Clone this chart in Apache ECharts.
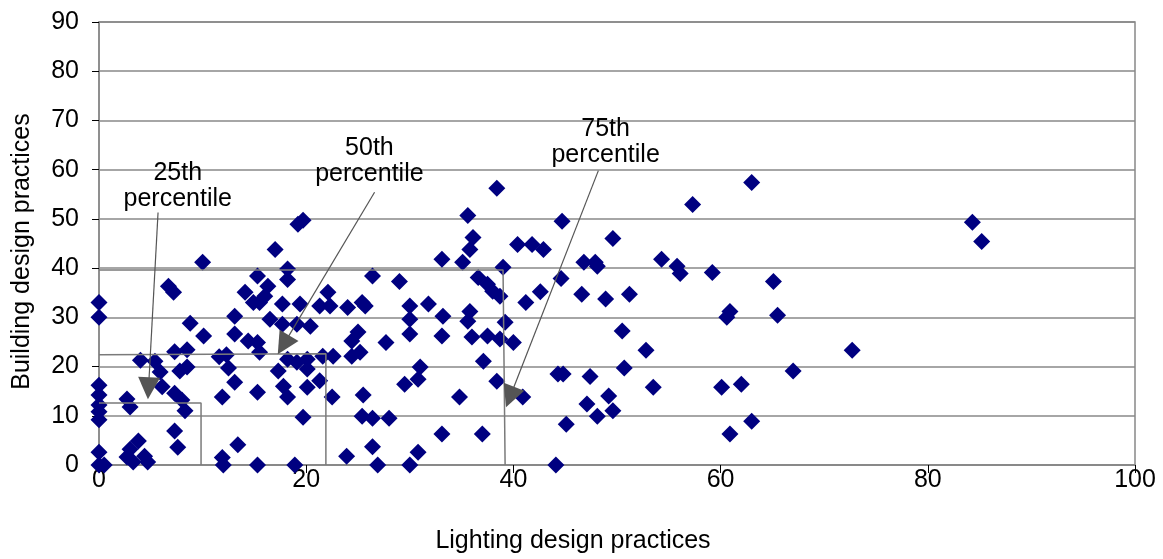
<!DOCTYPE html>
<html>
<head>
<meta charset="utf-8">
<script src="https://cdn.jsdelivr.net/npm/echarts@6/dist/echarts.min.js"></script>
<style>html,body{margin:0;padding:0;background:#fff;}#c{width:1163px;height:559px;}</style>
</head>
<body>
<div id="c"></div>
<script>
// Lighting design practices (x) vs Building design practices (y)
const points = [
  [0,33],[0,30],[0,16.2],[0,14.2],[0,12.2],[0,10.8],[0,9.2],[0,2.6],[0,0],[0.5,0],
  [2.7,13.4],[3,11.8],[3.8,4.9],[3,3.2],[4.4,1.8],[2.7,1.6],[3.3,0.6],[4.7,0.6],[4,21.3],[5.4,21.1],
  [5.9,18.9],[6.1,15.9],[7.3,23],[8.5,23.4],[7.8,19.1],[8.5,19.9],[7.3,14.6],[8,13.2],[8.3,11],[7.3,6.9],
  [7.6,3.6],[6.7,36.3],[7.2,35.1],[10,41.2],[8.8,28.8],[10.1,26.2],
  [19.2,48.9],[19.7,49.7],[17,43.8],[18.2,39.8],[18.2,37.7],[15.3,38.4],[14.1,35.1],[14.9,33],[16,34.3],[16.3,36.3],
  [15.5,33],[17.7,32.7],[19.4,32.7],[22.1,35.1],[21.3,32.3],[22.3,32.3],[13.1,30.2],[13.1,26.6],[16.5,29.6],[17.7,28.6],
  [19.1,28.6],[20.4,28.2],[14.4,25.2],[15.3,24.9],[15.5,22.9],[11.6,22],[12.3,22.4],[12.5,19.7],[13.1,16.8],[11.9,13.8],
  [15.3,14.8],[17.3,19.1],[18.2,21.5],[19.1,20.9],[20.1,21.5],[21.6,22.1],[22.6,22.1],[20.1,19.5],[21.3,17.1],[20.1,15.8],
  [17.8,16],[18.2,13.8],[22.5,13.8],[19.7,9.7],[13.4,4.1],[11.9,1.5],[12,0],[15.3,0],[18.9,0],
  [33.1,41.8],[26.4,38.4],[29,37.3],[24,32],[25.4,33],[25.7,32.3],[30,32.3],[31.8,32.7],[33.2,30.2],[30,29.6],
  [25,27],[24.4,25.2],[24.4,22.1],[25.2,22.9],[27.7,24.9],[30,26.6],[33.1,26.2],[31,19.9],[29.5,16.4],[30.8,17.4],
  [25.5,14.2],[25.4,9.9],[26.4,9.5],[28,9.5],[33.1,6.3],[23.9,1.8],[26.4,3.7],[26.9,0],[30,0],[30.8,2.6],
  [38.4,56.2],[35.6,50.7],[44.7,49.5],[36.1,46.2],[35.8,43.8],[40.4,44.8],[41.8,44.8],[42.9,43.8],[35.1,41.2],[39,40.2],
  [36.6,38.1],[37.5,36.7],[38,35.3],[38.7,34.3],[41.2,33],[42.6,35.2],[44.6,37.9],[35.8,31.2],[35.6,29.2],[39.2,29],
  [36,26],[37.5,26.2],[38.7,25.6],[40,24.9],[37.1,21.1],[38.4,17],[40.9,13.8],[34.8,13.8],[44.3,18.5],[44.8,18.5],
  [37,6.3],[45.1,8.3],[44.1,0],
  [63,57.4],[57.3,52.9],[49.6,46],[46.8,41.2],[47.9,41.2],[48.1,40.4],[54.3,41.8],[55.8,40.4],[56.1,38.9],[59.2,39.1],
  [65.1,37.3],[46.6,34.7],[48.9,33.7],[51.2,34.7],[60.9,31.2],[60.6,30],[65.5,30.4],[50.5,27.2],[52.8,23.3],[72.7,23.3],
  [47.4,18],[50.7,19.7],[67,19.1],[53.5,15.8],[60.1,15.8],[62,16.4],[47.1,12.4],[49.2,14],[48.1,9.9],[49.6,11],
  [60.9,6.3],[63,8.9],
  [84.3,49.3],[85.2,45.4]
];

const xTicks = [0, 20, 40, 60, 80, 100];
const yTicks = [0, 10, 20, 30, 40, 50, 60, 70, 80, 90];

// percentile guide lines (data units)
const p25Line = [[0,12.6],[9.85,12.6],[9.85,0]];
const p50Line = [[0,22.4],[21.9,22.6],[21.9,0]];
const p75Line = [[0,39.6],[39.0,39.6],[39.2,0]];

// annotation labels and arrows (data units)
const labels = [
  {name: '25th\npercentile', value: [7.6, 56.6]},
  {name: '50th\npercentile', value: [26.1, 61.7]},
  {name: '75th\npercentile', value: [48.9, 65.7]}
];
const arrows = [
  [[5.7,51.3],[4.78,15.6]],
  [[26.6,55.4],[17.8,24.4]],
  [[48.2,59.8],[39.67,13.8]]
];

const FONT = 'Liberation Sans, Arial, Helvetica, sans-serif';
const chart = echarts.init(document.getElementById('c'));
const guideStyle = {color: '#7a7a7a', width: 1.5};

chart.setOption({
  animation: false,
  backgroundColor: '#fff',
  grid: {left: 99, right: 28, top: 22, bottom: 93, show: true, borderColor: '#888', borderWidth: 1.5, backgroundColor: 'transparent'},
  xAxis: {
    type: 'value', min: xTicks[0], max: xTicks[xTicks.length-1], interval: 20,
    name: 'Lighting design practices', nameLocation: 'middle', nameGap: 64,
    nameTextStyle: {fontFamily: FONT, fontSize: 25, color: '#000', padding: [0, 88, 0, 0]},
    axisLine: {show: true, lineStyle: {color: '#888', width: 1.5}},
    axisTick: {show: true, inside: false, length: 8, lineStyle: {color: '#000', width: 1}},
    axisLabel: {fontFamily: FONT, fontSize: 25, color: '#000', margin: 3},
    splitLine: {show: false}
  },
  yAxis: {
    type: 'value', min: yTicks[0], max: yTicks[yTicks.length-1], interval: 10,
    name: 'Building design practices', nameLocation: 'middle', nameGap: 64,
    nameTextStyle: {fontFamily: FONT, fontSize: 25, color: '#000', padding: [0, 16, 0, 0]},
    axisLine: {show: true, lineStyle: {color: '#888', width: 1.5}},
    axisTick: {show: true, inside: false, length: 7, lineStyle: {color: '#000', width: 1}},
    axisLabel: {fontFamily: FONT, fontSize: 25, color: '#000', margin: 20},
    splitLine: {show: true, lineStyle: {color: '#888', width: 1.5}}
  },
  series: [
    {
      type: 'scatter', data: points, symbol: 'diamond', symbolSize: 17, clip: false,
      itemStyle: {color: '#000080', opacity: 1}, z: 2
    },
    {type: 'line', data: p25Line, showSymbol: false, symbol: 'none', lineStyle: guideStyle, z: 3, silent: true},
    {type: 'line', data: p50Line, showSymbol: false, symbol: 'none', lineStyle: guideStyle, z: 3, silent: true},
    {type: 'line', data: p75Line, showSymbol: false, symbol: 'none', lineStyle: guideStyle, z: 3, silent: true},
    {
      type: 'lines', coordinateSystem: 'cartesian2d', z: 4, silent: true,
      symbol: ['none', 'triangle'], symbolSize: [15, 22],
      lineStyle: {color: '#555', width: 1.2, opacity: 1},
      itemStyle: {color: '#4d4d4d'},
      data: arrows.map(a => ({coords: a}))
    },
    {
      type: 'scatter', data: labels, symbolSize: 0, z: 5, silent: true,
      itemStyle: {opacity: 1},
      label: {show: true, position: 'inside', formatter: p => p.name, fontFamily: FONT, fontSize: 25, lineHeight: 26, color: '#000', opacity: 1, align: 'center', verticalAlign: 'middle'}
    }
  ]
});
</script>
</body>
</html>
